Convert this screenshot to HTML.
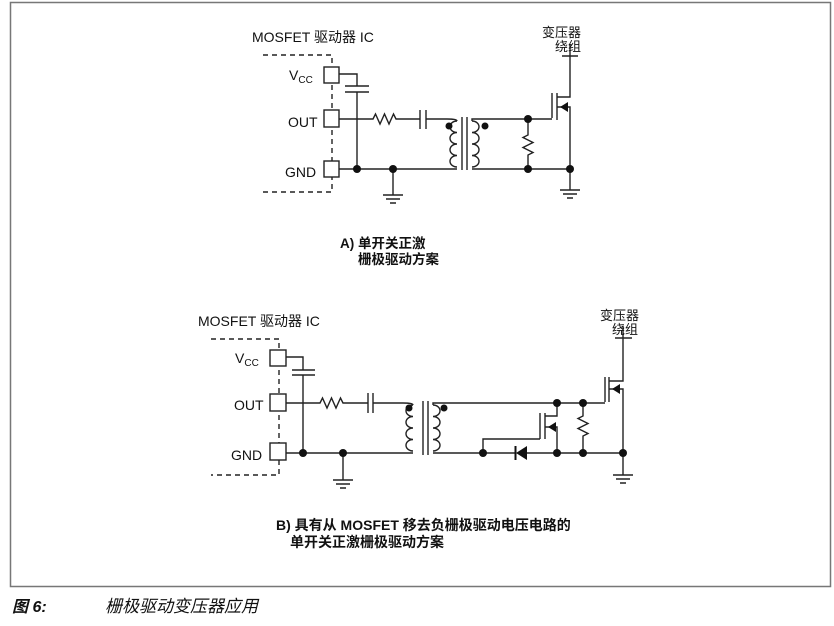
<!DOCTYPE html>
<html><head><meta charset="utf-8"><style>
html,body{margin:0;padding:0;background:#fff;}
svg{display:block;}
text{font-family:"Liberation Sans","Noto Sans CJK SC",sans-serif;fill:#111;}
</style></head><body>
<svg width="834" height="626" viewBox="0 0 834 626" xmlns="http://www.w3.org/2000/svg">
<rect x="10.5" y="2.5" width="820" height="584" fill="none" stroke="#777" stroke-width="1.5"/>
<g stroke="#222" stroke-width="1.4" fill="none">
<!-- ===== A ===== -->
<path d="M263 55H332V192H263" stroke-dasharray="5,4"/>
<rect x="324" y="67" width="15" height="16" fill="#fff"/>
<rect x="324" y="110" width="15" height="17" fill="#fff"/>
<rect x="324" y="161" width="15" height="16" fill="#fff"/>
<path d="M339 74H357V86M345 86H369M345 92H369M357 92V169"/>
<path d="M339 119H373l2.5 -5l4.5 10l4.5 -10l4.5 10l4.5 -10l2.5 5H420M420 110V129M426 110V129M426 119H447Q457 119 457 121"/>
<path d="M457 121a7 5.75 0 0 0 0 11.5a7 5.75 0 0 0 0 11.5a7 5.75 0 0 0 0 11.5a7 5.75 0 0 0 0 11.5"/>
<path d="M462 117V170M467 117V170"/>
<path d="M472 121a7 5.75 0 0 1 0 11.5a7 5.75 0 0 1 0 11.5a7 5.75 0 0 1 0 11.5a7 5.75 0 0 1 0 11.5"/>
<path d="M339 169H457M472 169H570M472 121V119H552"/>
<path d="M528 119V135l-5 2.5l10 5l-10 5l10 5l-5 2.5V169"/>
<path d="M393 169V195M383 195H403M386 199H400M390 203H396"/>
<path d="M552 93V118M557 93V120M557 97H570V56M562 56H578M570 56V44M557 107H570V169M570 169V190M560 190H580M563 194H577M567 198H573"/>
<!-- ===== B ===== -->
<path d="M211 339H279V475H211" stroke-dasharray="5,4"/>
<rect x="270" y="350" width="16" height="16" fill="#fff"/>
<rect x="270" y="394" width="16" height="17" fill="#fff"/>
<rect x="270" y="443" width="16" height="17" fill="#fff"/>
<path d="M286 357H303V370M292 370H315M292 375H315M303 375V453"/>
<path d="M286 403H320l2.5 -5l4.5 10l4.5 -10l4.5 10l4.5 -10l2.5 5H368M368 393V413M373 393V413M373 403H403Q413 403 413 405"/>
<path d="M413 405a7 5.75 0 0 0 0 11.5a7 5.75 0 0 0 0 11.5a7 5.75 0 0 0 0 11.5a7 5.75 0 0 0 0 11.5"/>
<path d="M423 401V455M428 401V455"/>
<path d="M433 405a7 5.75 0 0 1 0 11.5a7 5.75 0 0 1 0 11.5a7 5.75 0 0 1 0 11.5a7 5.75 0 0 1 0 11.5"/>
<path d="M286 453H413M433 453H515M527 453H623M433 405V403H605"/>
<path d="M343 453V480M333 480H353M336 484H350M340 488H346"/>
<path d="M583 403V416l-5 2.5l10 5l-10 5l10 5l-5 2.5V453"/>
<path d="M540 413V439M545 413V439M545 416H557V403M545 427H557V453M540 439H483V453"/>
<path d="M605 377V402M609 377V402M609 381H623V338M615 338H632M623 338V326M609 389H623V453M623 453V475M613 475H633M616 479H630M620 483H626"/>
</g>
<g fill="#111">
<path d="M560 107l8 -5v10z"/>
<path d="M612 389l8 -5v10z"/>
<path d="M548 427l8 -5v10z"/>
<path d="M516 453l11 -7v14z"/><rect x="514.5" y="446" width="2" height="14"/>
<circle cx="357" cy="169" r="4"/><circle cx="393" cy="169" r="4"/>
<circle cx="449" cy="126" r="3.5"/><circle cx="485" cy="126" r="3.5"/>
<circle cx="528" cy="119" r="4"/><circle cx="528" cy="169" r="4"/><circle cx="570" cy="169" r="4"/>
<circle cx="303" cy="453" r="4"/><circle cx="343" cy="453" r="4"/>
<circle cx="409" cy="408" r="3.5"/><circle cx="444" cy="408" r="3.5"/>
<circle cx="557" cy="403" r="4"/><circle cx="583" cy="403" r="4"/>
<circle cx="483" cy="453" r="4"/><circle cx="557" cy="453" r="4"/><circle cx="583" cy="453" r="4"/><circle cx="623" cy="453" r="4"/>
</g>
<g font-size="14">
<text x="252" y="42">MOSFET 驱动器 IC</text>
<text x="289" y="80">V<tspan font-size="10" dy="3">CC</tspan></text>
<text x="288" y="127">OUT</text>
<text x="285" y="177">GND</text>
<text x="198" y="326">MOSFET 驱动器 IC</text>
<text x="235" y="363">V<tspan font-size="10" dy="3">CC</tspan></text>
<text x="234" y="410">OUT</text>
<text x="231" y="460">GND</text>
</g>
<g font-size="13">
<text x="542" y="37">变压器</text>
<text x="555" y="51">绕组</text>
<text x="600" y="320">变压器</text>
<text x="612" y="334">绕组</text>
</g>
<g font-size="13.5" font-weight="bold">
<text x="340" y="248">A) 单开关正激</text>
<text x="358" y="264">栅极驱动方案</text>
</g>
<g font-size="14" font-weight="bold">
<text x="276" y="530">B) 具有从 MOSFET 移去负栅极驱动电压电路的</text>
<text x="290" y="547">单开关正激栅极驱动方案</text>
</g>
<text x="12" y="612" font-size="16" font-weight="bold" font-style="italic">图 6:</text>
<text x="105" y="612" font-size="17" font-style="italic">栅极驱动变压器应用</text>
</svg>
</body></html>
